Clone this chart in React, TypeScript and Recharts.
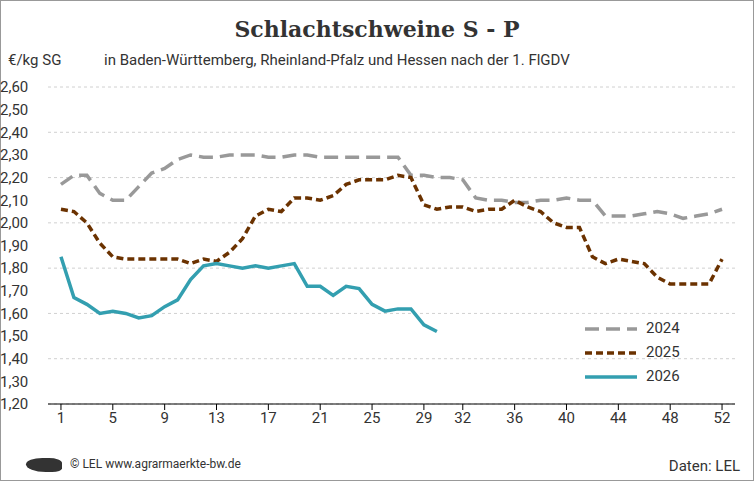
import React from 'react';
import { LineChart, Line, XAxis, YAxis, CartesianGrid } from 'recharts';

const weeks = Array.from({ length: 52 }, (_, i) => i + 1);
const y2024 = [2.17,2.21,2.21,2.13,2.10,2.10,2.16,2.22,2.24,2.28,2.30,2.29,2.29,2.30,2.30,2.30,2.29,2.29,2.30,2.30,2.29,2.29,2.29,2.29,2.29,2.29,2.29,2.21,2.21,2.20,2.20,2.19,2.11,2.10,2.10,2.09,2.09,2.10,2.10,2.11,2.10,2.10,2.03,2.03,2.03,2.04,2.05,2.04,2.02,2.03,2.04,2.06];
const y2025 = [2.06,2.05,2.00,1.91,1.85,1.84,1.84,1.84,1.84,1.84,1.82,1.84,1.83,1.87,1.93,2.03,2.06,2.05,2.11,2.11,2.10,2.12,2.17,2.19,2.19,2.19,2.21,2.20,2.08,2.06,2.07,2.07,2.05,2.06,2.06,2.10,2.07,2.05,2.00,1.98,1.98,1.85,1.82,1.84,1.83,1.82,1.76,1.73,1.73,1.73,1.73,1.84];
const y2026 = [1.85,1.67,1.64,1.60,1.61,1.60,1.58,1.59,1.63,1.66,1.75,1.81,1.82,1.81,1.80,1.81,1.80,1.81,1.82,1.72,1.72,1.68,1.72,1.71,1.64,1.61,1.62,1.62,1.55,1.52];
const xTicks = [1,5,9,13,17,21,25,29,32,36,40,44,48,52];
const yTicks = [1.2,1.3,1.4,1.5,1.6,1.7,1.8,1.9,2.0,2.1,2.2,2.3,2.4,2.5,2.6];

const data = weeks.map((w, i) => ({ w, a: y2024[i], b: y2025[i], c: i < y2026.length ? y2026[i] : null }));
const fmt = (v: number) => v.toFixed(2).replace('.', ',');
const font = 'Roboto, "Noto Sans", sans-serif';

export default function App() {
  return (
    <div style={{ position: 'absolute', left: 0, top: 0, width: 754, height: 481, background: '#fff', fontFamily: font }}>
      <div style={{ position: 'absolute', left: 0, top: 0, width: 752, height: 479, border: '1px solid #999' }} />
      <div style={{ position: 'absolute', top: 16, width: 754, textAlign: 'center', fontFamily: '"DejaVu Serif", serif', fontWeight: 'bold', fontSize: 22, color: '#333' }}>Schlachtschweine S - P</div>
      <div style={{ position: 'absolute', top: 51, left: 8, fontSize: 15, color: '#333' }}>€/kg SG</div>
      <div style={{ position: 'absolute', top: 51, left: 104, fontSize: 15, color: '#333' }}>in Baden-Württemberg, Rheinland-Pfalz und Hessen nach der 1. FlGDV</div>
      <LineChart width={754} height={481} data={data} margin={{ top: 87, right: 19, bottom: 47, left: 0 }}>
        <CartesianGrid vertical={false} stroke="#d0d0d0" strokeDasharray="3 3" />
        <XAxis dataKey="w" type="number" domain={[0, 53]} ticks={xTicks} interval={0} height={30}
          tick={{ fill: '#333', fontSize: 15, fontFamily: font }} tickLine={{ stroke: '#000' }} axisLine={{ stroke: '#000' }} tickSize={6} />
        <YAxis domain={[1.2, 2.6]} ticks={yTicks} tickFormatter={fmt} width={48} axisLine={false} tickLine={false}
          tick={{ fill: '#333', fontSize: 15, fontFamily: font, textAnchor: 'start', dx: -40 }} />
        <Line dataKey="a" stroke="#999999" strokeWidth={3.5} strokeDasharray="14 7" dot={false} isAnimationActive={false} />
        <Line dataKey="b" stroke="#6b3200" strokeWidth={3.5} strokeDasharray="7 4" dot={false} isAnimationActive={false} />
        <Line dataKey="c" stroke="#339fb0" strokeWidth={3.5} dot={false} isAnimationActive={false} connectNulls={false} />
      </LineChart>
      {[['2024', '#999999', '14 7'], ['2025', '#6b3200', '7 4'], ['2026', '#339fb0', '']].map(([t, c, d], i) => (
        <div key={t} style={{ position: 'absolute', left: 585, top: 319 + i * 24, height: 20 }}>
          <svg width={55} height={20} style={{ position: 'absolute', left: 0, top: 0 }}>
            <line x1={0} x2={52} y1={10} y2={10} stroke={c} strokeWidth={3.5} strokeDasharray={d} />
          </svg>
          <span style={{ position: 'absolute', left: 61, top: 0, fontSize: 15, color: '#333' }}>{t}</span>
        </div>
      ))}
      <div style={{ position: 'absolute', left: 26, top: 457, fontSize: 12, color: '#333' }}>
        <span style={{ display: 'inline-block', width: 36, height: 14, background: '#333', borderRadius: '50% 40% 30% 60%', verticalAlign: 'middle', marginRight: 8 }} />
        © LEL www.agrarmaerkte-bw.de
      </div>
      <div style={{ position: 'absolute', right: 14, top: 457, fontSize: 15, color: '#333' }}>Daten: LEL</div>
    </div>
  );
}
